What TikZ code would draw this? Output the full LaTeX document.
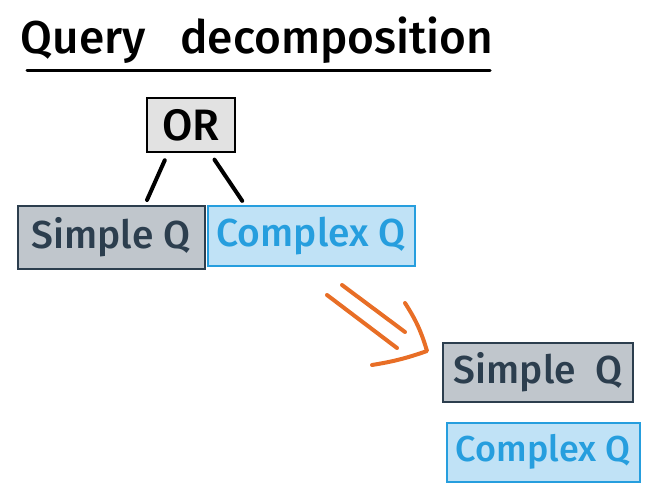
\documentclass[tikz,border=0pt]{standalone}
\usepackage{fontspec}
\setmainfont{Fira Sans}[BoldFont={Fira Sans Medium}]
\usetikzlibrary{arrows.meta,positioning}
\definecolor{slate}{RGB}{44,62,78}
\definecolor{slatefill}{RGB}{192,198,204}
\definecolor{skyblue}{RGB}{38,158,222}
\definecolor{skyfill}{RGB}{192,226,246}
\definecolor{orfill}{RGB}{226,226,226}
\definecolor{arroworange}{RGB}{232,110,38}

\tikzset{
  qbox/.style={draw,line width=2pt,inner sep=0pt,font=\fontsize{39}{42}\selectfont\bfseries},
  simplebox/.style={qbox,draw=slate,fill=slatefill,text=slate},
  complexbox/.style={qbox,draw=skyblue,fill=skyfill,text=skyblue},
  link/.style={line width=4pt,line cap=round,shorten <=8pt,shorten >=5pt},
  orangestroke/.style={draw=arroworange,line width=4pt,line cap=round,line join=round}
}

\begin{document}
\begin{tikzpicture}[x=1pt,y=-1pt]
\useasboundingbox (0,0) rectangle (660,495);

% title with underline
\node (title) at (257,40) {\fontsize{46}{50}\selectfont\bfseries Query\ \ \ decomposition};
\draw[line width=3pt,line cap=round] (27,70) -- (490,70);

% OR node and the two kinds of query
\node[qbox,draw=black,fill=orfill,minimum width=88pt,minimum height=54pt,
      font=\fontsize{44}{46}\selectfont\bfseries] (or) at (191,125) {OR};
\node[simplebox,minimum width=187pt,minimum height=63pt] (simple) at (111,237) {Simple Q};
\node[complexbox,minimum width=207pt,minimum height=60pt] (complex) at (311,236) {Complex Q};

\draw[link] ([xshift=-23pt]or.south) -- ([xshift=34pt]simple.north);
\draw[link] ([xshift=19pt]or.south) -- ([xshift=-66pt]complex.north);

% result of the decomposition
\node[simplebox,minimum width=190pt,minimum height=59pt] (simple2) at (538,372) {Simple\ \ Q};
\node[complexbox,minimum width=193pt,minimum height=59pt,
      font=\fontsize{36}{40}\selectfont\bfseries] (complex2) at (543,452) {Complex Q};

% orange double arrow
\coordinate (arrtip) at (427,351);
\draw[orangestroke] (327,295) -- (397,348);
\draw[orangestroke] (342,285) -- (405,332);
\draw[orangestroke] (405,303) to[bend left=8] (arrtip) to[bend left=5] (372,365);
\end{tikzpicture}
\end{document}
